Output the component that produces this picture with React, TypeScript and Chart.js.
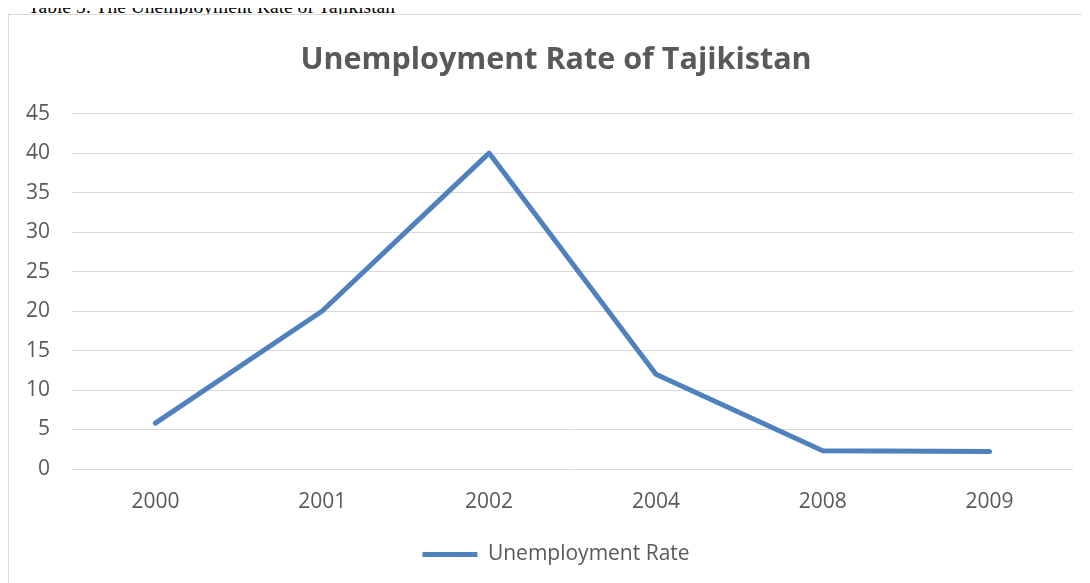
import React, { useEffect, useRef } from "react";
import { Chart, registerables } from "chart.js";

Chart.register(...registerables);

const categories = ["2000", "2001", "2002", "2004", "2008", "2009"];
const unemploymentRate = [5.8, 20, 40, 12, 2.3, 2.2];
const seriesLabel = "Unemployment Rate";
const chartTitle = "Unemployment Rate of Tajikistan";
const caption = "Table 5: The Unemployment Rate of Tajikistan";
const yMin = 0;
const yMax = 45;
const yStep = 5;

export default function App() {
  const canvasRef = useRef<HTMLCanvasElement | null>(null);

  useEffect(() => {
    document.documentElement.style.overflow = "hidden";
    document.body.style.overflow = "hidden";
    const canvas = canvasRef.current;
    if (!canvas) return;
    const chart = new Chart(canvas, {
      type: "line",
      data: {
        labels: categories,
        datasets: [
          {
            label: seriesLabel,
            data: unemploymentRate,
            borderColor: "#4F81BD",
            backgroundColor: "#4F81BD",
            borderWidth: 5,
            pointRadius: 0,
            pointHoverRadius: 0,
            tension: 0,
            borderCapStyle: "round",
            borderJoinStyle: "round",
          },
        ],
      },
      options: {
        responsive: false,
        animation: false,
        layout: { padding: { left: 0, right: 0, top: 0, bottom: 8 } },
        plugins: {
          title: {
            display: true,
            text: chartTitle,
            color: "#595959",
            font: { family: "'Open Sans', sans-serif", size: 30.5, weight: "bold" },
            padding: { top: 27, bottom: 35 },
          },
          legend: {
            position: "bottom",
            labels: {
              usePointStyle: true,
              pointStyle: "line",
              pointStyleWidth: 55,
              color: "#595959",
              font: { family: "'Open Sans', sans-serif", size: 21 },
              padding: 10,
            },
          },
          tooltip: { enabled: false },
        },
        scales: {
          x: {
            offset: true,
            grid: { display: false, drawTicks: false },
            border: { display: false },
            ticks: {
              color: "#595959",
              font: { family: "'Open Sans', sans-serif", size: 21 },
              padding: 20,
              maxRotation: 0,
            },
            afterFit: (scale: any) => {
              scale.height = 65;
            },
          },
          y: {
            min: yMin,
            max: yMax,
            grid: { color: "#d9d9d9", lineWidth: 1, drawTicks: false },
            border: { display: false },
            ticks: {
              stepSize: yStep,
              color: "#595959",
              font: { family: "'Open Sans', sans-serif", size: 21 },
              padding: 22,
            },
            afterFit: (scale: any) => {
              scale.width = 63;
            },
          },
          spacer: {
            position: "right",
            display: true,
            grid: { display: false, drawTicks: false },
            border: { display: false },
            ticks: { display: false },
            afterFit: (scale: any) => {
              scale.width = 30;
            },
          },
        },
      },
    });
    return () => chart.destroy();
  }, []);

  return (
    <div style={{ position: "relative", width: 1090, height: 583 }}>
      <div
        style={{
          position: "absolute",
          left: 20,
          top: -12,
          fontFamily: "'Liberation Serif', 'Times New Roman', serif",
          fontSize: 19.5,
          lineHeight: "21px",
          color: "#000",
          whiteSpace: "nowrap",
        }}
      >
        {caption}
      </div>
      <div
        style={{
          position: "absolute",
          left: 0,
          top: 6,
          width: 1094,
          height: 600,
          border: "1px solid #d9d9d9",
          background: "#fff",
        }}
      >
        <canvas ref={canvasRef} width={1094} height={568} style={{ display: "block" }} />
      </div>
    </div>
  );
}
